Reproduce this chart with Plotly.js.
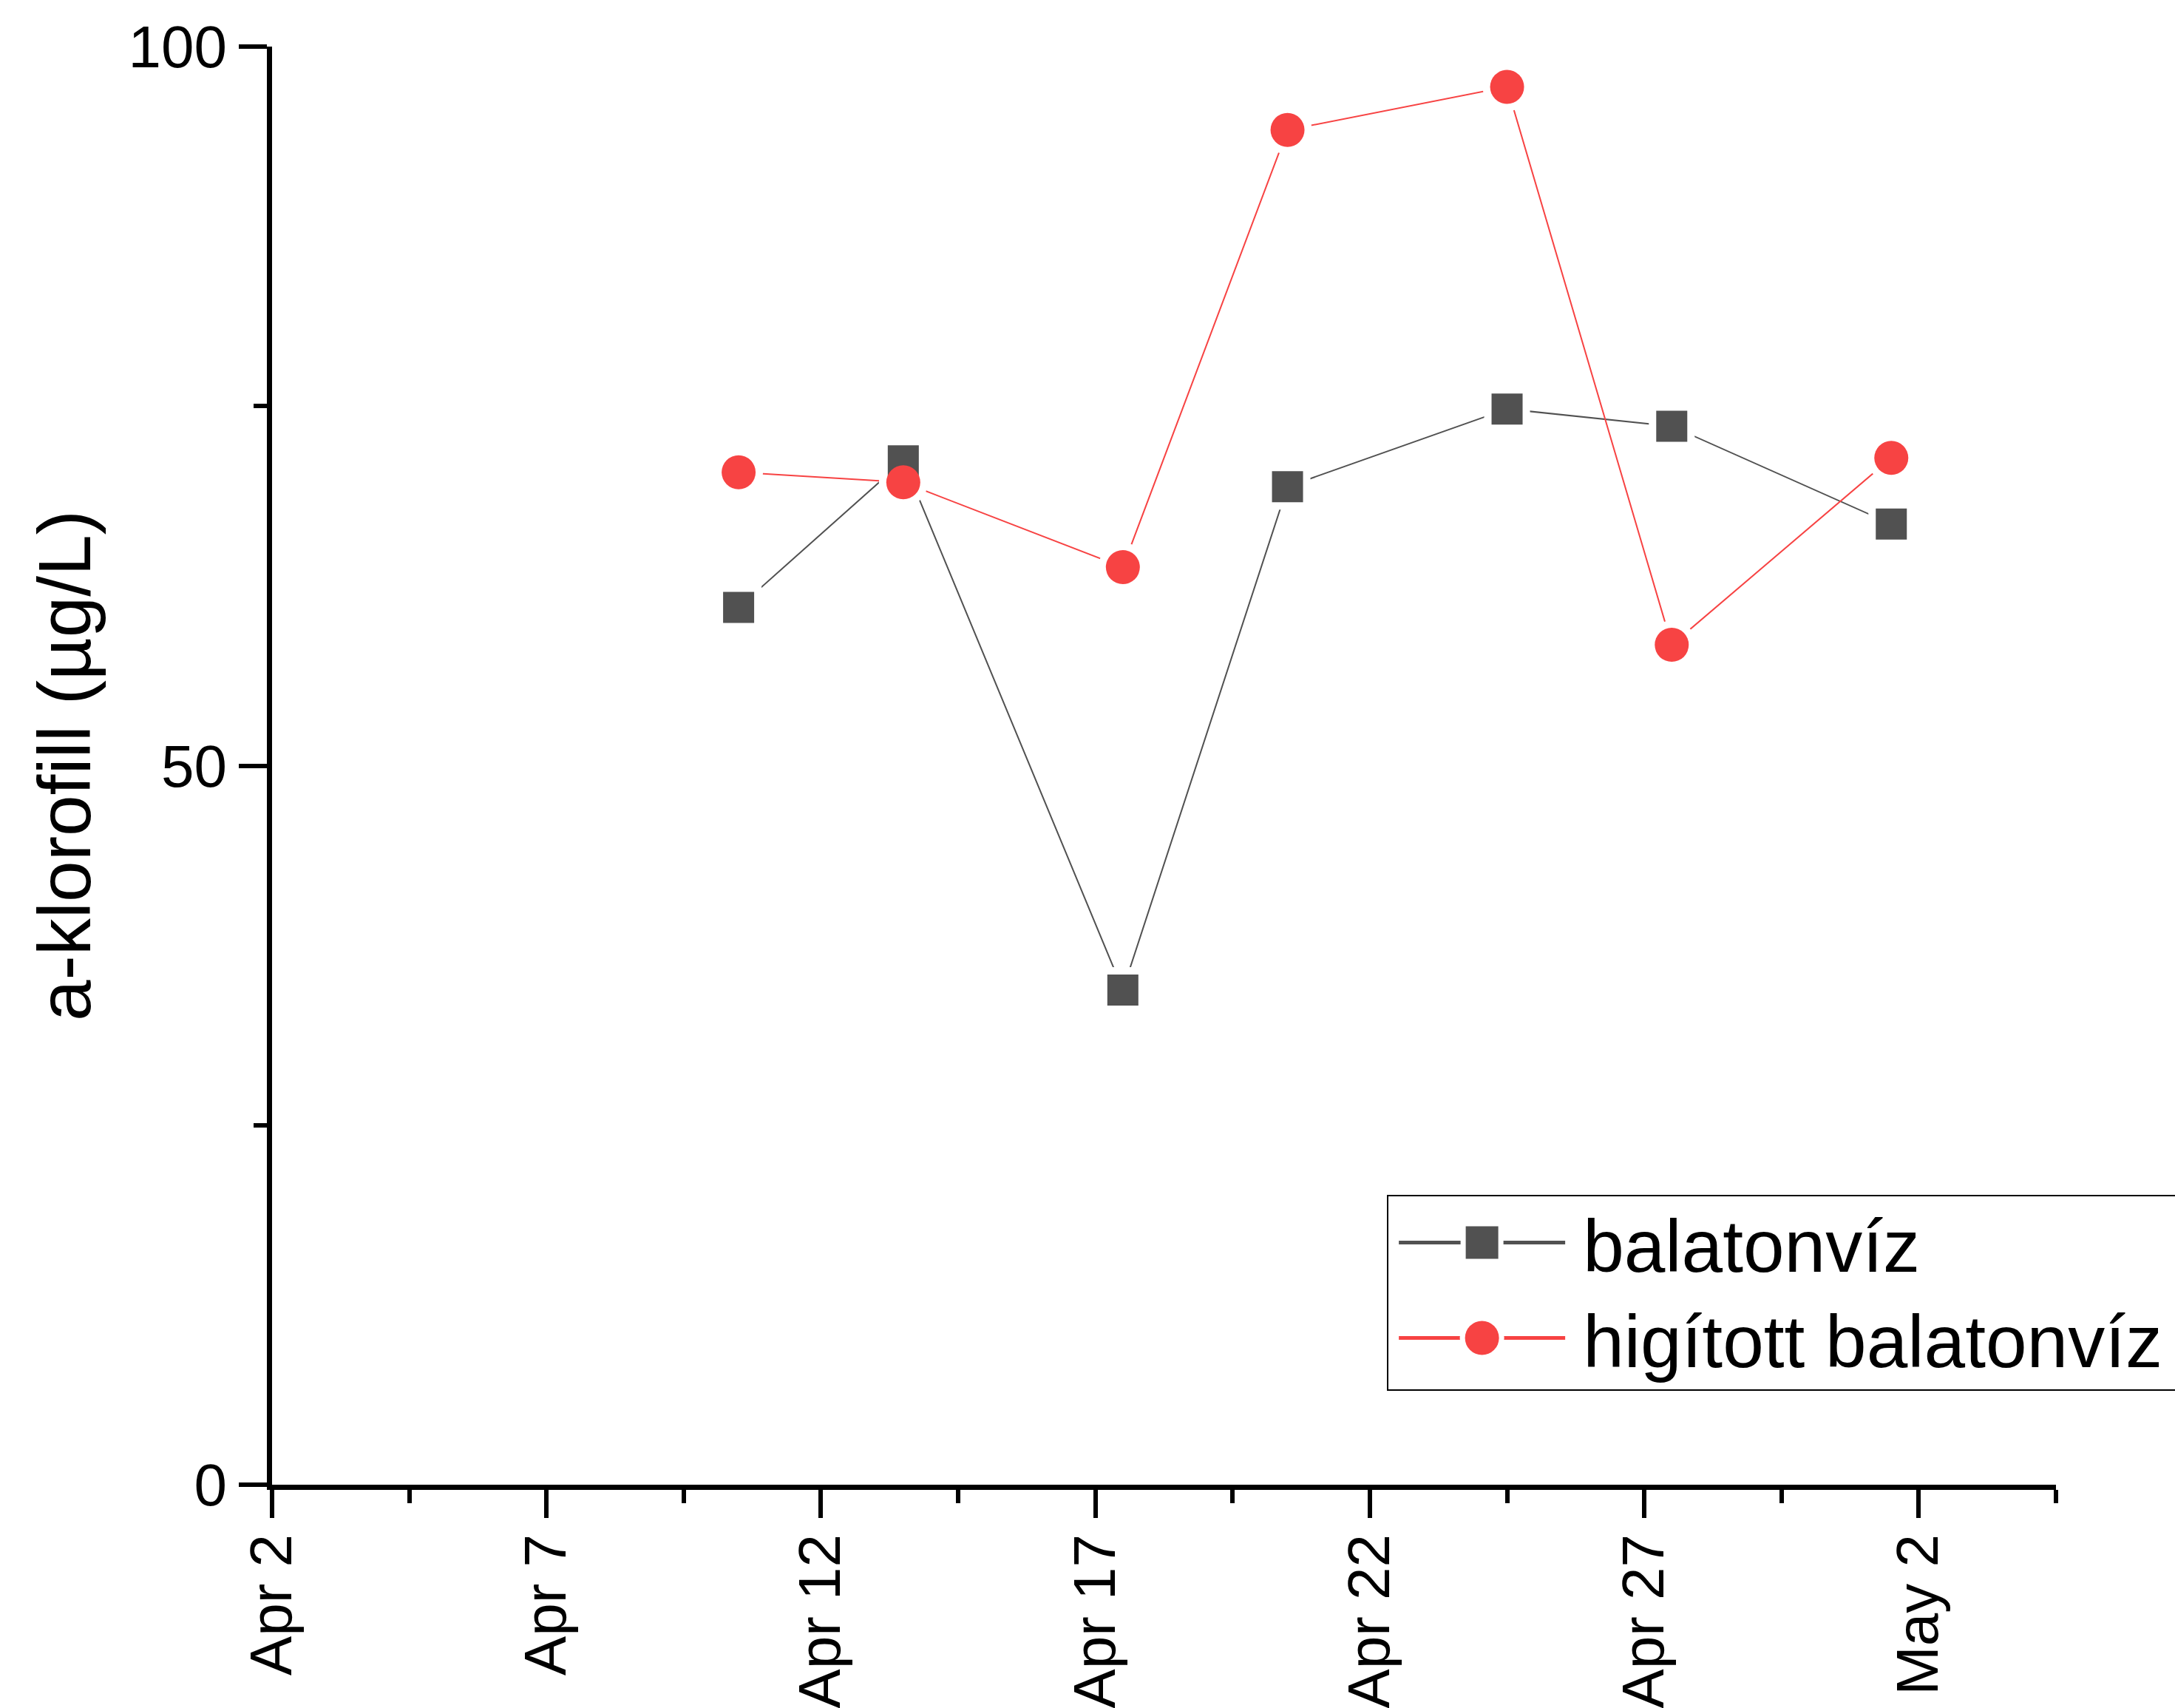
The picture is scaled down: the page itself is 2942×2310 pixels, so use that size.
<!DOCTYPE html>
<html><head><meta charset="utf-8">
<script src="https://cdn.plot.ly/plotly-3.0.1.min.js"></script>
<style>html,body{margin:0;padding:0;background:#fff;} #chart{width:2942px;height:2310px;}</style>
</head><body><div id="chart"></div>
<script>
const dates = ['2021-04-10 12:00','2021-04-13 12:00','2021-04-17 12:00','2021-04-20 12:00','2021-04-24 12:00','2021-04-27 12:00','2021-05-01 12:00'];
const balatonviz = [61.0, 71.2, 34.4, 69.4, 74.8, 73.6, 66.8];
const higitott = [70.4, 69.7, 63.8, 94.2, 97.2, 58.4, 71.4];
const seriesNames = ['balatonvíz', 'higított balatonvíz'];
const yTitle = 'a-klorofill (µg/L)';
const xRange = ['2021-04-02', '2021-05-04 12:00'];
const yRange = [0, 100];
const DAY = 86400000;
const FONT = 'Arial, "Liberation Sans", sans-serif';
const GRAY = '#515151', RED = '#F74343';
const SQ = 42, CI = 46, GAP = 20;

const data = [
  // connecting lines (these carry the legend entries)
  {x: dates, y: balatonviz, name: seriesNames[0], type: 'scatter', mode: 'lines+markers',
   line: {color: GRAY, width: 2}, marker: {symbol: 'square', size: 2, color: GRAY}},
  {x: dates, y: higitott, name: seriesNames[1], type: 'scatter', mode: 'lines+markers',
   line: {color: RED, width: 2}, marker: {symbol: 'circle', size: 2, color: RED}},
  // white halos that open small gaps in the lines around every symbol
  {x: dates, y: balatonviz, type: 'scatter', mode: 'markers', showlegend: false, hoverinfo: 'skip',
   marker: {symbol: 'square', size: SQ + GAP, color: '#fff', line: {width: 0}}},
  {x: dates, y: higitott, type: 'scatter', mode: 'markers', showlegend: false, hoverinfo: 'skip',
   marker: {symbol: 'circle', size: CI + GAP, color: '#fff', line: {width: 0}}},
  // symbols
  {x: dates, y: balatonviz, name: seriesNames[0], type: 'scatter', mode: 'markers', showlegend: false,
   marker: {symbol: 'square', size: SQ, color: GRAY, line: {width: 0}}},
  {x: dates, y: higitott, name: seriesNames[1], type: 'scatter', mode: 'markers', showlegend: false,
   marker: {symbol: 'circle', size: CI, color: RED, line: {width: 0}}}
];

const layout = {
  width: 2942, height: 2310,
  margin: {l: 368, r: 161, t: 63, b: 302},
  paper_bgcolor: '#fff', plot_bgcolor: '#fff',
  showlegend: true,
  font: {family: FONT, color: '#000', size: 80},
  xaxis: {type: 'date', range: xRange, tick0: '2021-04-02', dtick: 5 * DAY, tickformat: '%b %-d',
    tickangle: -90, ticks: 'outside', ticklen: 38, tickwidth: 6, tickcolor: '#000', ticklabelstandoff: -10,
    showline: true, linewidth: 7, linecolor: '#000', showgrid: false, zeroline: false,
    tickfont: {family: FONT, size: 80, color: '#000'},
    minor: {tick0: '2021-04-02', dtick: 2.5 * DAY, ticks: 'outside', ticklen: 18, tickwidth: 6, tickcolor: '#000', showgrid: false},
    automargin: false},
  yaxis: {range: yRange, tick0: 0, dtick: 50, ticks: 'outside', ticklen: 38, tickwidth: 6, tickcolor: '#000',
    showline: true, linewidth: 7, linecolor: '#000', showgrid: false, zeroline: false,
    tickfont: {family: FONT, size: 80, color: '#000'},
    minor: {tick0: 0, dtick: 25, ticks: 'outside', ticklen: 18, tickwidth: 6, tickcolor: '#000', showgrid: false},
    title: {text: yTitle, font: {family: FONT, size: 100, color: '#000'}, standoff: 20},
    automargin: false},
  legend: {x: 0.625, xanchor: 'left', y: 0.2015, yanchor: 'top', bordercolor: '#000', borderwidth: 2,
    bgcolor: '#fff', font: {family: FONT, size: 100, color: '#000'}, itemwidth: 225, itemsizing: 'constant',
    tracegroupgap: 0}
};

Plotly.newPlot('chart', data, layout, {staticPlot: true, displayModeBar: false}).then(function (gd) {
  const targets = [44, 46];
  const rowShift = [-9, -13];
  const legend = gd.querySelector('.legend');
  legend.querySelectorAll('.traces').forEach(function (tr, i) {
    // legend row position
    const m = /translate\(([-\d.]+),\s*([-\d.]+)\)/.exec(tr.getAttribute('transform') || '');
    if (m) tr.setAttribute('transform', 'translate(' + (parseFloat(m[1]) + 9) + ',' + (parseFloat(m[2]) + rowShift[i]) + ')');
    // bigger legend symbols with a gap in the line around them
    tr.querySelectorAll('.legendpoints path').forEach(function (p) {
      const bb = p.getBBox();
      if (!bb.height) return;
      const t = p.getAttribute('transform') || '';
      const halo = p.cloneNode(true);
      halo.setAttribute('transform', t + ' scale(' + ((targets[i] + 14) / bb.height) + ')');
      halo.style.fill = '#fff';
      halo.style.stroke = 'none';
      p.parentNode.insertBefore(halo, p);
      p.setAttribute('transform', t + ' scale(' + (targets[i] / bb.height) + ')');
    });
    const txt = tr.querySelector('.legendtext');
    if (txt) txt.setAttribute('x', parseFloat(txt.getAttribute('x') || 0) + 19);
  });
  const bg = legend.querySelector('.bg');
  if (bg) {
    bg.setAttribute('width', 1400);
    bg.setAttribute('height', parseFloat(bg.getAttribute('height')) - 15);
  }
  document.querySelectorAll('clipPath[id^="legend"] rect').forEach(function (r) {
    r.setAttribute('width', 1400);
  });
});
</script>
</body></html>
